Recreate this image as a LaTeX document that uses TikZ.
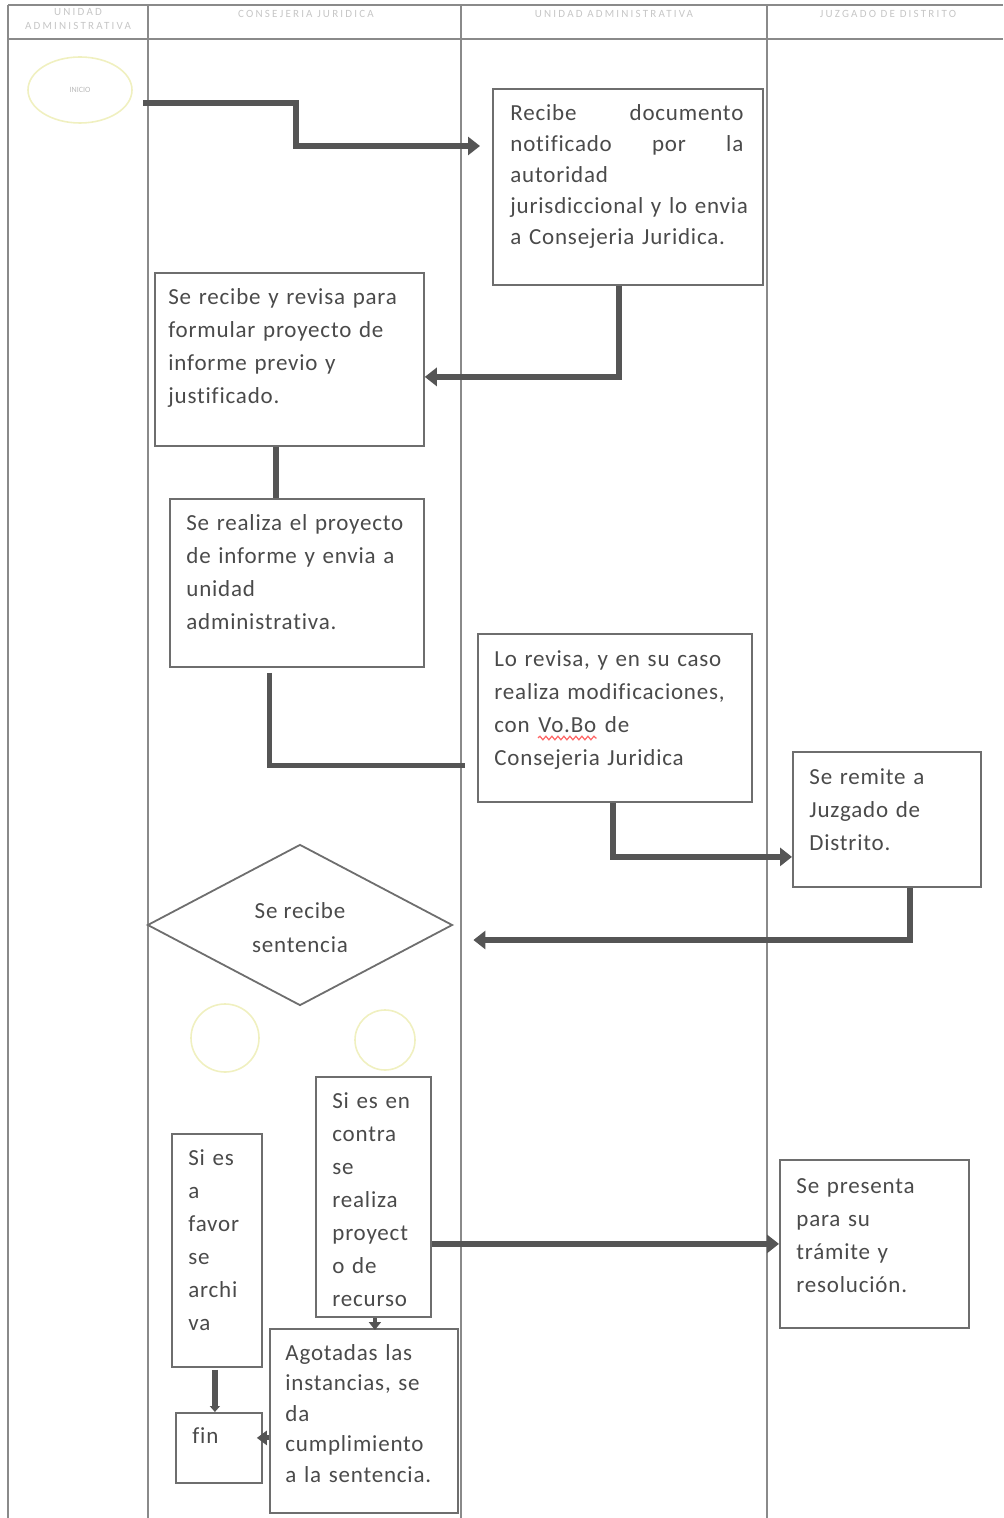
\documentclass[tikz,border=0pt]{standalone}
\usepackage{fontspec}
\setmainfont{Carlito}
\newfontfamily\boxfont{Carlito}[LetterSpace=3.5,Ligatures=NoCommon]
\newfontfamily\headfont{Carlito}[LetterSpace=20,Ligatures=NoCommon]
\usetikzlibrary{shapes.geometric,arrows.meta,calc,decorations.pathmorphing}
\definecolor{ink}{HTML}{555555}
\definecolor{txt}{HTML}{4A4A4A}
\definecolor{lane}{HTML}{8A8A8A}
\definecolor{faint}{HTML}{F0F0C0}
\newcommand\redwave[1]{\tikz[baseline=(vb.base),x=1pt,y=1pt]{\node[inner sep=0pt,anchor=base west] (vb) {#1};
  \draw[red!60, line width=0.6pt, decorate, decoration={snake, amplitude=0.9pt, segment length=3pt}]
    ([yshift=-3pt]vb.base west) -- ([yshift=-3pt]vb.base east);}}
\tikzset{
  box/.style={draw=ink!85, line width=0.9pt, rectangle, inner sep=0pt, anchor=north west},
  btext/.style={anchor=base west, inner sep=0pt, align=left, text=txt, text width=150pt,
    font={\boxfont\fontsize{11.5}{16.5}\selectfont}},
  flow/.style={draw=ink, line width=3pt},
  arr/.style={flow, -{Triangle[width=9pt,length=6pt]}},
  lanes/.style={draw=lane, line width=1pt},
  headtxt/.style={text=gray!45, font={\headfont\fontsize{5.5}{7}\selectfont}, align=center, inner sep=0pt},
  faintc/.style={draw=faint, line width=0.8pt, inner sep=0pt}
}
\begin{document}
\begin{tikzpicture}[x=0.5pt,y=-0.5pt]
\useasboundingbox (0,0) rectangle (1003,1518);
% lanes
\draw[lanes] (8,5) -- (1003,5);
\draw[lanes] (8,39) -- (1003,39);
\foreach \xx in {8,148,461,767} \draw[lanes] (\xx,5) -- (\xx,1518);
% headers
\node[headtxt] (h1) at (78,19) {UNIDAD\\ADMINISTRATIVA};
\node[headtxt] (h2) at (306,14) {CONSEJERIA JURIDICA};
\node[headtxt] (h3) at (614,14) {UNIDAD ADMINISTRATIVA};
\node[headtxt] (h4) at (888,14) {JUZGADO DE DISTRITO};
% start and faint circles
\node[faintc, ellipse, minimum width=52pt, minimum height=33pt, text=gray!55,
  font=\fontsize{4}{5}\selectfont] (ini) at (80,90) {INICIO};
\node[faintc, circle, minimum size=34pt] (c1) at (225,1038) {};
\node[faintc, circle, minimum size=30pt] (c2) at (385,1040) {};
% boxes
\node[box, minimum width=135pt, minimum height=98pt] (A) at (492,88) {};
\node[box, minimum width=134.5pt, minimum height=86.5pt] (B) at (154,272) {};
\node[box, minimum width=127pt, minimum height=84pt] (C) at (169,498) {};
\node[box, minimum width=137pt, minimum height=84pt] (D) at (477,633) {};
\node[box, minimum width=94pt, minimum height=67.5pt] (E) at (792,751) {};
\node[box, minimum width=57.5pt, minimum height=120pt] (F) at (315,1076) {};
\node[box, minimum width=45pt, minimum height=116.5pt] (G) at (171,1133) {};
\node[box, minimum width=94pt, minimum height=92pt] (H) at (269,1328) {};
\node[box, minimum width=43pt, minimum height=35pt] (fin) at (175,1412) {};
\node[box, minimum width=94.5pt, minimum height=84pt] (I) at (779,1159) {};
\node[draw=ink!85, line width=0.9pt, diamond, minimum width=152.5pt, minimum height=80.5pt,
  inner sep=0pt, align=center, text=txt, font={\boxfont\fontsize{11.5}{17}\selectfont}] (dia) at (300,925) {};
\node[text=txt, align=center, inner sep=0pt, font={\boxfont\fontsize{11.5}{17}\selectfont}] (diat) at ($(dia.center)+(0,3)$) {Se recibe\\sentencia};
% texts
\node[btext, text width=116.5pt, font={\boxfont\fontsize{11.5}{15.4}\selectfont}] (At) at ($(A.north west)+(18,33)$)
  {Recibe\hfill documento\\notificado\hfill por\hfill la\\autoridad\\\mbox{jurisdiccional y lo envia}\\a Consejeria Juridica.};
\node[btext] (Bt) at ($(B.north west)+(14,33)$) {Se recibe y revisa para\\formular proyecto de\\informe previo y\\justificado.};
\node[btext] (Ct) at ($(C.north west)+(17,32)$) {Se realiza el proyecto\\de informe y envia a\\unidad\\administrativa.};
\node[btext] (Dt) at ($(D.north west)+(17,33)$) {Lo revisa, y en su caso\\realiza modificaciones,\\con \redwave{Vo.Bo} de\\Consejeria Juridica};
\node[btext] (Et) at ($(E.north west)+(17,33)$) {Se remite a\\Juzgado de\\Distrito.};
\node[btext] (Ft) at ($(F.north west)+(17,32)$) {Si es en\\contra\\se\\realiza\\proyect\\o de\\recurso};
\node[btext] (Gt) at ($(G.north west)+(17,32)$) {Si es\\a\\favor\\se\\archi\\va};
\node[btext, font={\boxfont\fontsize{11.5}{15.25}\selectfont}] (Ht) at ($(H.north west)+(16,32)$) {Agotadas las\\instancias, se\\da\\cumplimiento\\a la sentencia.};
\node[btext] (It) at ($(I.north west)+(17,34)$) {Se presenta\\para su\\trámite y\\resolución.};
\node[btext, text width=30pt] (fint) at ($(fin.north west)+(17,31)$) {fin};
% connectors
\coordinate (s0) at (143,103);
\draw[arr] (s0) -- ++(153,0) -- ++(0,43) -- ($(A.north west)+(-12,58)$);
\draw[arr] ($(A.south)+(-9,0)$) |- ($(B.east)+(0,17.5)$);
\draw[flow] ($(B.south)+(-13.5,0)$) -- ($(C.north)+(-21,0)$);
\draw[flow, line width=2.5pt] ($(C.south)+(-27,5)$) |- ($(D.west)+(-12,48)$);
\draw[arr] ($(D.south)+(-2,0)$) |- ($(E.west)+(0,37.5)$);
\draw[arr] ($(E.south)+(23,0)$) |- ($(dia.east)+(20,15)$);
\draw[arr] (F.east |- I.west) -- (I.west);
\draw[flow, line width=2pt, -{Triangle[width=6pt,length=4pt]}] ($(F.south)+(1.5,0)$) -- ($(F.south |- H.north)+(1.5,2)$);
\draw[flow, -{Triangle[width=5pt,length=3pt]}] ($(G.south)+(-2,2)$) -- ($(fin.north)+(-4,0)$);
\draw[flow, line width=2.5pt, -{Triangle[width=7pt,length=5pt]}] ($(H.west)+(0,17)$) -- ($(fin.east)+(-6,-10)$);
\end{tikzpicture}
\end{document}
